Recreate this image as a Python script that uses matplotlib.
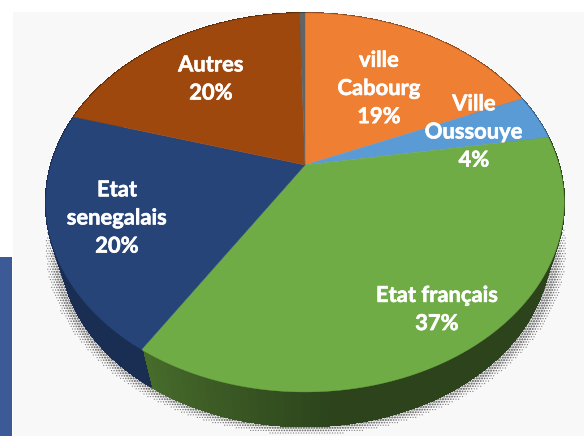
import numpy as np
import matplotlib
matplotlib.use('Agg')
import matplotlib.pyplot as plt
from matplotlib.patches import Polygon, Rectangle
import matplotlib.patheffects as pe

# slices clockwise from the top, the last one is the thin unlabelled grey one
shares = [18.6, 3.9, 36.5, 20.5, 20.1, 0.4]
top_colors = ['#ef7f33', '#5b9bd5', '#6fac46', '#264478', '#9e480e', '#636363']
side_colors = ['#8f4a1c', '#365d80', '#2c431b', '#1a2d52', '#5e2b08', '#3b3b3b']

label_names = ['ville\nCabourg', 'Ville\nOussouye', 'Etat français', 'Etat\nsenegalais', 'Autres']
label_pcts = [19, 4, 37, 20, 20]
label_x = [379, 474, 437, 117, 211]
label_y = [88.5, 132, 309.5, 218, 79]

# disc to picture, pie seen in perspective
CX, CY = 305, 165
P, A, B = 0.198, 254, 182


def project(theta):
    u, v = np.sin(theta), np.cos(theta)
    w = 1 + P * v
    return CX + A * u / w, CY - B * v / w


def lower(x, y):
    # bottom edge of the rim
    return 306 + 0.945 * (x - 306), 247 + 0.947 * (y - 202.5)


def shade(color, theta, lit):
    # green rim gets lighter towards its lower left end
    rgb = np.array(matplotlib.colors.to_rgb(color))
    k = 1.0
    if lit:
        k = 1 + 0.6 * np.clip((np.degrees(theta) - 175) / 37, 0, 1)
    return np.clip(rgb * k, 0, 1)


fig = plt.figure(figsize=(5.84, 4.36), dpi=100)
ax = fig.add_axes([0, 0, 1, 1])
ax.set_xlim(0, 584)
ax.set_ylim(436, 0)
ax.axis('off')

# backdrop
ax.add_patch(Rectangle((13, 12), 571, 424, fc='#f8f8f8', ec='none', zorder=0))
ax.add_patch(Rectangle((0, 257), 12, 179, fc='#3c5b96', ec='none', zorder=1))

# halftone shadow
gx, gy = np.meshgrid(np.arange(14, 584, 2.6), np.arange(225, 436, 2.6))
gx[::2] += 1.3
e = np.sqrt(((gx - 306) / 260) ** 2 + ((gy - 249) / 186) ** 2)
keep = (e < 1) & (e > 0.85)
ax.scatter(gx[keep], gy[keep], s=2.6 * ((1 - e[keep]) / 0.035).clip(0.3, 1),
           c='#7c7c7c', linewidths=0, zorder=2)

# rim first, top faces over it
edges = np.radians(np.concatenate([[0], np.cumsum(shares)]) * 3.6)
for i in range(len(shares)):
    steps = np.linspace(edges[i], edges[i + 1], 80)
    for t0, t1 in zip(steps[:-1], steps[1:]):
        x0, y0 = project(t0)
        x1, y1 = project(t1)
        bx0, by0 = lower(x0, y0)
        bx1, by1 = lower(x1, y1)
        c = shade(side_colors[i], (t0 + t1) / 2, i == 2)
        ax.add_patch(Polygon([(x0, y0), (x1, y1), (bx1, by1), (bx0, by0)],
                             fc=c, ec=c, lw=0.8, antialiased=False, zorder=3))

for i in range(len(shares)):
    steps = np.linspace(edges[i], edges[i + 1], 120)
    x, y = project(steps)
    pts = [(CX, CY)] + list(zip(x, y))
    ax.add_patch(Polygon(pts, fc=top_colors[i], ec=top_colors[i], lw=0.3, zorder=4))

for name, pct, x, y in zip(label_names, label_pcts, label_x, label_y):
    ax.text(x, y, f'{name}\n{pct}%', color='white', family='Lato', weight='bold',
            fontsize=15.8, ha='center', va='center', linespacing=1.42, zorder=5,
            path_effects=[pe.withStroke(linewidth=0.4, foreground='white')])

fig.savefig('out.png', dpi=100)
